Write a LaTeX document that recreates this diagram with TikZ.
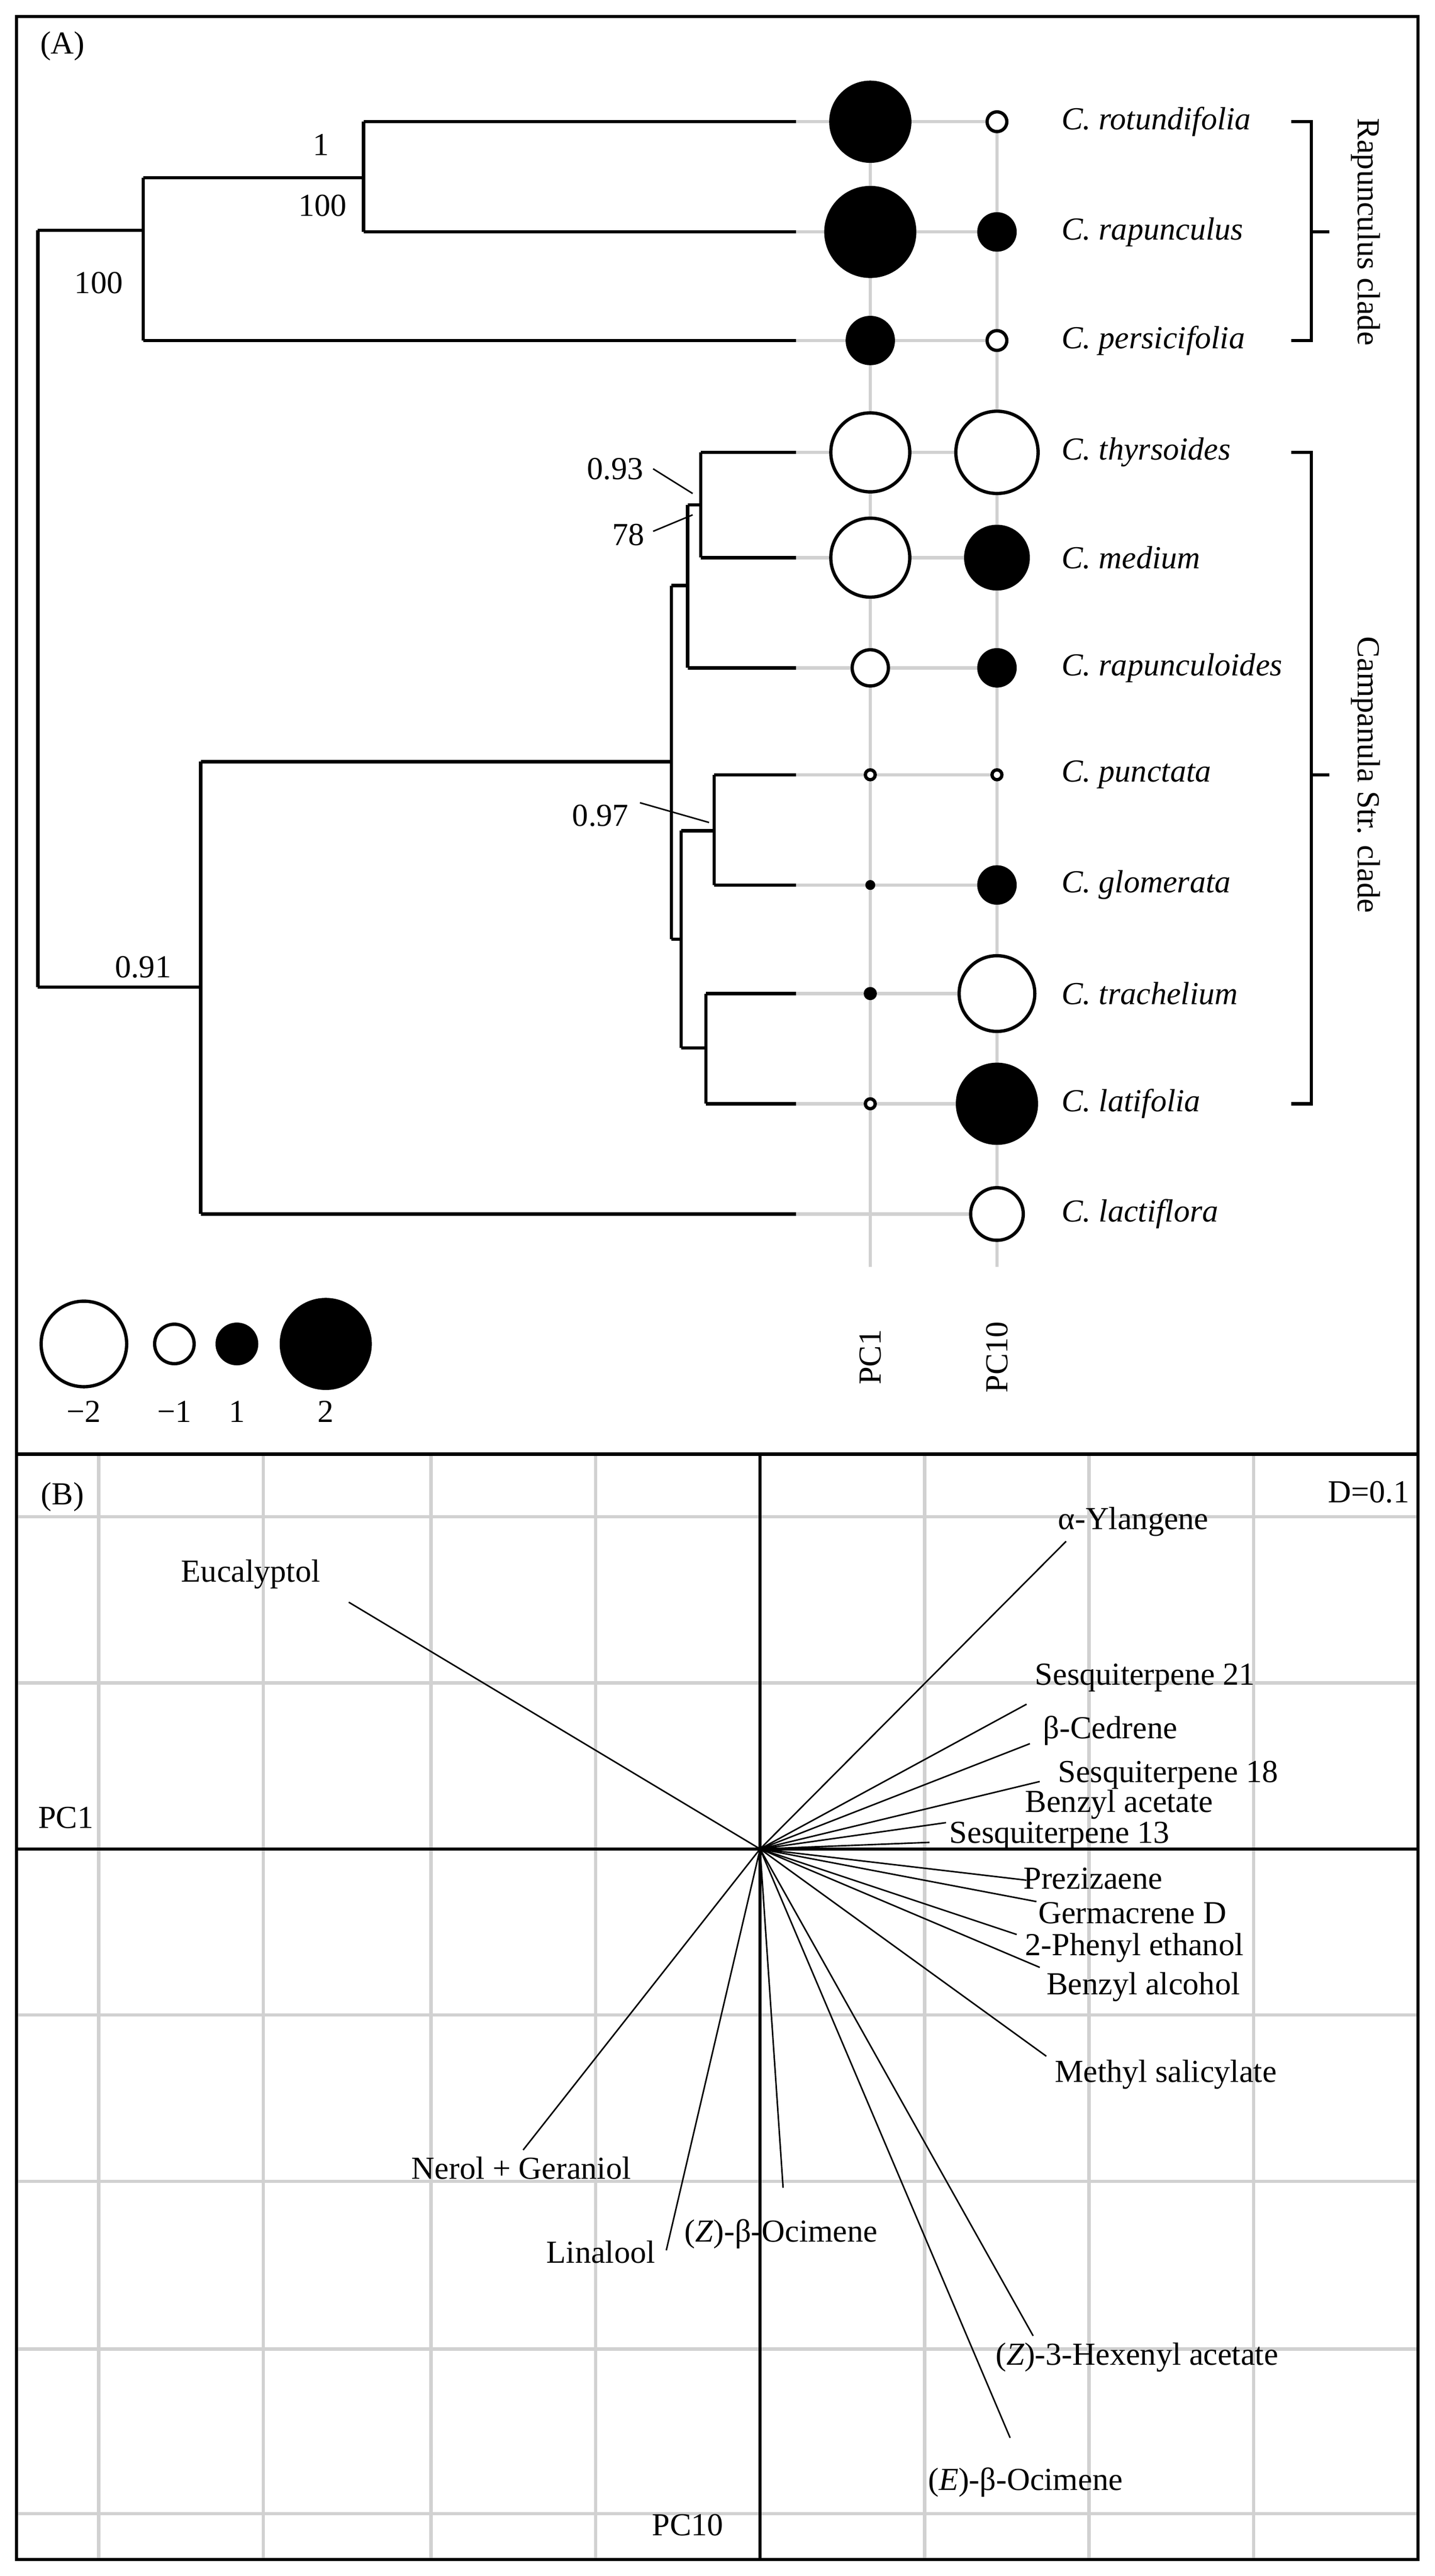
\documentclass[tikz,border=0pt]{standalone}
\usepackage{fontspec}
\setmainfont{Liberation Serif}
\begin{document}
\begin{tikzpicture}[x=1pt,y=-1pt,
 tr/.style={line width=2pt},
 gl/.style={draw=black!18,line width=2pt},
 grid/.style={draw=black!18,line width=2pt},
 vec/.style={line width=0.9pt},
 lab/.style={font=\fontsize{19.5}{21}\selectfont,inner sep=1pt},
 sp/.style={font=\fontsize{19.5}{21}\selectfont\itshape,anchor=west,inner sep=0pt},
 fc/.style={fill=black,draw=black,line width=2pt},
 oc/.style={fill=white,draw=black,line width=2pt}]
\useasboundingbox (0,0) rectangle (872,1566);
% frames
\draw[line width=2pt] (10,10) rectangle (862,1556);
\draw[line width=2pt] (10,884) -- (862,884);
\node[lab] (A) at (38,28) {(A)};
% grey lines
\foreach \y in {74,141,207,275,339,406,471,538,604,671,738} \draw[gl] (484,\y) -- (606,\y);
\draw[gl] (529,74) -- (529,770);
\draw[gl] (606,74) -- (606,770);
% tree
\draw[tr] (23,140) -- (23,600);
\draw[tr] (23,140) -- (87,140); \draw[tr] (23,600) -- (122,600);
\draw[tr] (87,108) -- (87,207);
\draw[tr] (87,108) -- (221,108); \draw[tr] (87,207) -- (484,207);
\draw[tr] (221,74) -- (221,141);
\draw[tr] (221,74) -- (484,74); \draw[tr] (221,141) -- (484,141);
\draw[tr] (122,463) -- (122,738);
\draw[tr] (122,463) -- (408,463); \draw[tr] (122,738) -- (484,738);
\draw[tr] (408,356) -- (408,571);
\draw[tr] (408,356) -- (418,356); \draw[tr] (408,571) -- (414,571);
\draw[tr] (418,307) -- (418,406);
\draw[tr] (418,307) -- (426,307); \draw[tr] (418,406) -- (484,406);
\draw[tr] (426,275) -- (426,339);
\draw[tr] (426,275) -- (484,275); \draw[tr] (426,339) -- (484,339);
\draw[tr] (414,505) -- (414,637);
\draw[tr] (414,505) -- (434,505); \draw[tr] (414,637) -- (429,637);
\draw[tr] (434,471) -- (434,538);
\draw[tr] (434,471) -- (484,471); \draw[tr] (434,538) -- (484,538);
\draw[tr] (429,604) -- (429,671);
\draw[tr] (429,604) -- (484,604); \draw[tr] (429,671) -- (484,671);
% support labels
\node[lab] (s1) at (195,88) {1};
\node[lab] (s2) at (196,125) {100};
\node[lab] (s3) at (60,172) {100};
\node[lab] (s4) at (374,285) {0.93};
\node[lab] (s5) at (382,325) {78};
\node[lab] (s6) at (365,496) {0.97};
\node[lab] (s7) at (87,588) {0.91};
\draw[line width=0.9pt] (397,285) -- (421,300);
\draw[line width=0.9pt] (397,323) -- (421,313);
\draw[line width=0.9pt] (389,488) -- (431,500);
% circles
\foreach \y/\r/\s in {74/24/fc,141/27/fc,207/14/fc,275/24/oc,339/24/oc,406/11/oc,471/3/oc,538/2/fc,604/3/fc,671/3/oc}
  \draw[\s] (529,\y) circle (\r);
\foreach \y/\r/\s in {74/6/oc,141/11/fc,207/6/oc,275/25/oc,339/19/fc,406/11/fc,471/3/oc,538/11/fc,604/23/oc,671/24/fc,738/16/oc}
  \draw[\s] (606,\y) circle (\r);
% species
\foreach \y/\t in {74/rotundifolia,141/rapunculus,207/persicifolia,275/thyrsoides,339/medium,406/rapunculoides,471/punctata,538/glomerata,604/trachelium,671/latifolia,738/lactiflora}
  \node[sp] at (645,\y) {C. \t};
% brackets
\draw[line width=2pt] (785,74) -- (797,74) -- (797,207) -- (785,207);
\draw[line width=2pt] (797,141) -- (808,141);
\draw[line width=2pt] (785,275) -- (797,275) -- (797,671) -- (785,671);
\draw[line width=2pt] (797,471) -- (808,471);
\node[lab,rotate=-90] (rc) at (830,141) {Rapunculus clade};
\node[lab,rotate=-90] (cc) at (830,471) {Campanula Str. clade};
\node[lab,rotate=90] (p1) at (529,825) {PC1};
\node[lab,rotate=90] (p10) at (606,825) {PC10};
% legend
\draw[oc] (51,817) circle (26); \draw[oc] (106,817) circle (12);
\draw[fc] (144,817) circle (12); \draw[fc] (198,817) circle (27);
\node[lab] at (51,858) {−2}; \node[lab] at (106,858) {−1};
\node[lab] at (144,858) {1}; \node[lab] at (198,858) {2};
% panel B grid
\foreach \x in {60,160,262,362,562,662,762} \draw[grid] (\x,885) -- (\x,1555);
\foreach \y in {922,1023,1225,1326,1428,1528} \draw[grid] (11,\y) -- (861,\y);
\draw[line width=2pt] (462,885) -- (462,1555);
\draw[line width=2pt] (11,1124) -- (861,1124);
\node[lab] (B) at (38,910) {(B)};
\node[lab] (D) at (832,907) {D=0.1};
\node[lab] (pc1) at (40,1105) {PC1};
\node[lab] (pc10) at (418,1535) {PC10};
\coordinate (O) at (462,1124);
\foreach \ex/\ey/\lx/\ly/\t in {
 212/974/110/957/Eucalyptol,
 648/937/643/925/α-Ylangene,
 624/1036/629/1020/Sesquiterpene 21,
 626/1060/634/1052/β-Cedrene,
 632/1083/643/1079/Sesquiterpene 18,
 575/1108/623/1097/Benzyl acetate,
 565/1120/577/1116/Sesquiterpene 13,
 624/1143/622/1142/Prezizaene,
 630/1156/631/1163/Germacrene D,
 618/1176/623/1184/2-Phenyl ethanol,
 632/1196/636/1208/Benzyl alcohol,
 636/1250/641/1261/Methyl salicylate,
 628/1420/605/1433/(\textit{Z})-3-Hexenyl acetate,
 614/1482/564/1509/(\textit{E})-β-Ocimene,
 476/1330/416/1358/(\textit{Z})-β-Ocimene,
 405/1368/332/1369/Linalool,
 318/1307/250/1318/Nerol + Geraniol}
{ \draw[vec] (O) -- (\ex,\ey); \node[lab,anchor=west,inner sep=0pt] at (\lx,\ly) {\t}; }
\end{tikzpicture}
\end{document}
